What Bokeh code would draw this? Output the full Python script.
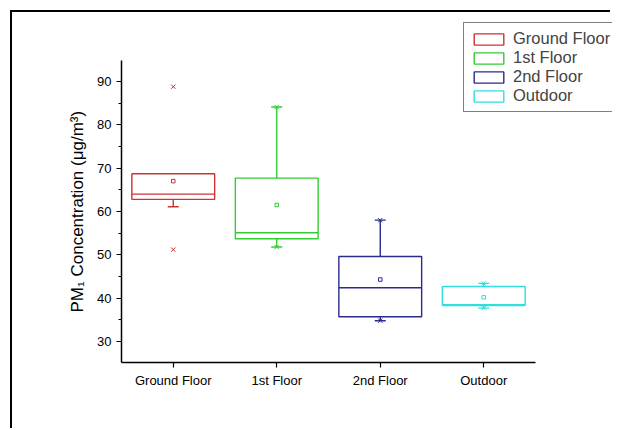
from bokeh.plotting import figure
from bokeh.models import (Range1d, SingleIntervalTicker, FixedTicker, Legend,
                          LegendItem, ColumnDataSource, Title)
from bokeh.transform import dodge
from bokeh.embed import file_html
from bokeh.resources import INLINE

# ---- data ----
categories = ["Ground Floor", "1st Floor", "2nd Floor", "Outdoor"]
positions = [1, 2, 3, 4]
q1 = [62.8, 53.7, 35.7, 38.3]
median = [64.0, 55.1, 42.4, 38.5]
q3 = [68.7, 67.7, 49.6, 42.7]
whisker_low = [61.1, 51.8, 34.8, 37.7]
whisker_high = [68.7, 84.1, 58.0, 43.4]
mean = [67.0, 61.5, 44.3, 40.2]
data_min = [51.2, 51.8, 34.8, 37.7]
data_max = [88.8, 84.1, 58.0, 43.4]
colors = ["#CC3333", "#33CC33", "#2B2B8C", "#33DDDD"]

FONT = "Liberation Sans"

src = ColumnDataSource(dict(x=positions, cat=categories, q1=q1, med=median, q3=q3,
                            lo=whisker_low, hi=whisker_high, mean=mean,
                            mn=data_min, mx=data_max, color=colors))

Y0, Y_AX_TOP = 25.15, 94.85
W, H = 600, 418
p = figure(width=W, height=H, output_backend="svg", toolbar_location=None,
           x_range=Range1d(0.5, 0.5 + (W - 109) / 103.5),
           y_range=Range1d(Y0, Y0 + 350 / 4.3333),
           min_border_left=109, min_border_right=0,
           min_border_top=0, min_border_bottom=H - 350)
p.styles = {"border-left": "2px solid #000", "border-top": "2px solid #000",
            "margin-left": "10px", "margin-top": "10px",
            "padding-right": "6px", "background-color": "white"}
p.outline_line_color = None
p.xgrid.grid_line_color = None
p.ygrid.grid_line_color = None
p.background_fill_color = "white"
p.border_fill_color = "white"

LW = 1.4
# whiskers
p.segment(x0="x", y0="lo", x1="x", y1="q1", line_color="color", line_width=LW, source=src)
p.segment(x0="x", y0="q3", x1="x", y1="hi", line_color="color", line_width=LW, source=src)
# caps
p.scatter(x="x", y="lo", marker="dash", size=11, line_color="color", line_width=LW, source=src)
p.scatter(x="x", y="hi", marker="dash", size=11, line_color="color", line_width=LW, source=src)
# boxes
boxes = p.vbar(x="x", top="q3", bottom="q1", width=0.8, fill_color="white",
               line_color="color", line_width=LW, source=src)
# medians
p.segment(x0=dodge("x", -0.4), y0="med", x1=dodge("x", 0.4), y1="med",
          line_color="color", line_width=LW, source=src)
# means
p.scatter(x="x", y="mean", marker="square", size=3.5, fill_color=None,
          line_color="color", line_width=1, source=src)
# min / max
p.scatter(x="x", y="mn", marker="x", size=6, line_color="color", line_width=1, source=src)
p.scatter(x="x", y="mx", marker="x", size=6, line_color="color", line_width=1, source=src)

# axes
for ax in (p.xaxis[0], p.yaxis[0]):
    ax.axis_line_color = "black"
    ax.axis_line_width = 1.5
    ax.major_tick_line_color = "black"
    ax.major_tick_line_width = 1.2
    ax.major_tick_in = 0
    ax.major_tick_out = 5
    ax.major_label_text_font = FONT
    ax.major_label_text_font_size = "13px"
    ax.major_label_text_color = "black"
    ax.major_label_standoff = 5

p.xaxis.ticker = FixedTicker(ticks=positions)
p.xaxis.major_label_overrides = {pos: c for pos, c in zip(positions, categories)}
p.xaxis.minor_tick_line_color = None
p.xaxis.bounds = (0.5, 4.5)

p.yaxis.ticker = SingleIntervalTicker(interval=10, num_minor_ticks=2)
p.yaxis.bounds = (Y0, Y_AX_TOP)
p.yaxis.minor_tick_in = 0
p.yaxis.minor_tick_out = 3
p.yaxis.minor_tick_line_color = "black"
p.yaxis.minor_tick_line_width = 1.2

ylabel = Title(text="PM\u2081 Concentration (\u03bcg/m\u00b3)", align="left",
               offset=50, text_font=FONT, text_font_size="17px",
               text_font_style="normal", text_color="black", standoff=16)
p.add_layout(ylabel, "left")

items = [LegendItem(label=c, renderers=[boxes], index=i) for i, c in enumerate(categories)]
legend = Legend(items=items, location=(342, 250), padding=6, spacing=0,
                glyph_width=37, glyph_height=14, label_height=14,
                label_standoff=6, label_text_font=FONT,
                label_text_font_size="16.5px", border_line_color="black",
                border_line_width=1, background_fill_color="white",
                background_fill_alpha=1.0, margin=0)
p.add_layout(legend)

open("out.html", "w").write(file_html(p, INLINE))
